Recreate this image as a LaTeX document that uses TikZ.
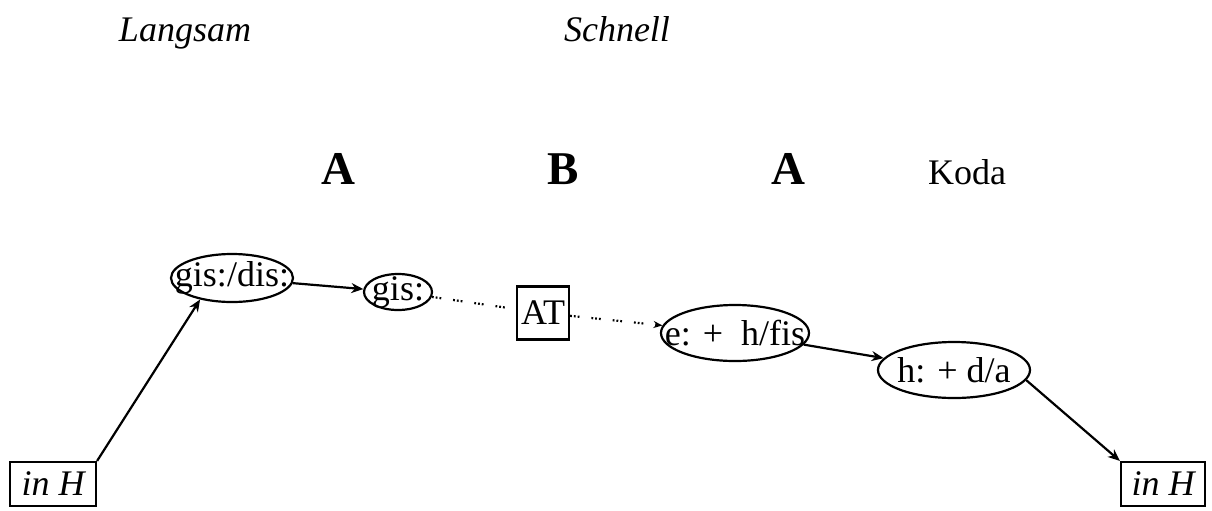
\documentclass[tikz,border=0pt]{standalone}
\usepackage{fontspec}
\setmainfont{Liberation Serif}
\usetikzlibrary{shapes.geometric,arrows.meta}

\begin{document}
\begin{tikzpicture}[x=.5pt, y=-.5pt,
    every node/.style={font=\fontsize{18}{21}\selectfont},
    tone/.style={draw, ellipse, line width=1.1pt, inner sep=0pt},
    key/.style={draw, line width=1.1pt, inner sep=2pt, fill=white},
    part/.style={anchor=base, font=\fontsize{23.5}{28}\selectfont\bfseries},
    arr/.style={line width=1.1pt, -{Stealth[length=6pt, width=5pt]}},
    dots/.style={line width=1.1pt, -{Stealth[length=4.5pt, width=3.5pt]},
      dash pattern=on .9pt off 1pt on .9pt off 1pt on .9pt off 6pt}]
  \useasboundingbox (0, 0) rectangle (1212, 510) ;
  % tempo and form
  \node[anchor=base] (slow) at (185, 41) {\itshape Langsam} ;
  \node[anchor=base] (fast) at (617, 41) {\itshape Schnell} ;
  \node[part] (partA) at (338, 184) {A} ;
  \node[part] (partB) at (563, 184) {B} ;
  \node[part] (partA2) at (788, 184) {A} ;
  \node[anchor=base] (coda) at (967, 184) {Koda} ;
  % keys and tones
  \node[key, minimum width=43pt, minimum height=22pt] (inL) at (53, 484) {\itshape in H} ;
  \node[key, minimum width=42pt, minimum height=22pt] (inR) at (1163, 484) {\itshape in H} ;
  \node[tone, minimum width=61pt, minimum height=24pt, label=center:{gis:/dis:}] (gd) at (232, 278) {} ;
  \node[tone, minimum width=34pt, minimum height=18pt, label=center:{gis:}] (g) at (398, 292) {} ;
  \node[key, minimum width=26pt, minimum height=26.5pt, inner sep=0pt] (at) at (543, 313) {AT} ;
  \node[tone, minimum width=74pt, minimum height=28pt, label=center:{e: +\ \ h/fis}] (efis) at (735, 333) {} ;
  \node[tone, minimum width=76pt, minimum height=28pt, label=center:{h: + d/a}] (hda) at (954, 370) {} ;
  % connections
  \draw[arr] (inL.north east) -- (gd.214) ;
  \draw[arr] (gd) -- (g) ;
  \draw[dots, -] (g) -- (at) ;
  \draw[dots] (at) -- (efis) ;
  \draw[arr] (efis) -- (hda) ;
  \draw[arr] (hda.-8) -- (inR.north west) ;
\end{tikzpicture}
\end{document}
